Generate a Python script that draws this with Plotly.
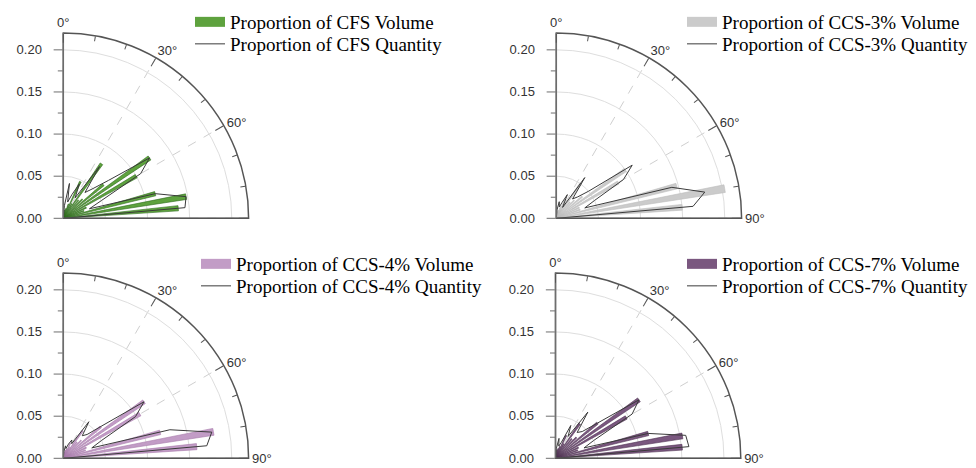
import plotly.graph_objects as go

# ---------------- data ----------------
angles = [5, 10, 15, 20, 25, 30, 35, 40, 45, 50, 55, 60, 65, 70, 75, 80, 85]

cfs_volume = [0.006, 0.010, 0.012, 0.018, 0.048, 0.020, 0.079, 0.028, 0.032, 0.062,
              0.125, 0.100, 0.030, 0.026, 0.113, 0.148, 0.137]
cfs_quantity = [0.015, 0.042, 0.020, 0.030, 0.045, 0.028, 0.075, 0.040, 0.050, 0.070,
                0.125, 0.106, 0.050, 0.033, 0.113, 0.148, 0.145]

ccs3_volume = [0.005, 0.008, 0.010, 0.015, 0.025, 0.020, 0.050, 0.025, 0.030, 0.040,
               0.100, 0.085, 0.030, 0.030, 0.148, 0.203, 0.150]
ccs3_quantity = [0.010, 0.020, 0.014, 0.020, 0.031, 0.015, 0.059, 0.030, 0.036, 0.050,
                 0.110, 0.092, 0.050, 0.036, 0.142, 0.179, 0.163]

ccs4_volume = [0.004, 0.008, 0.010, 0.012, 0.020, 0.015, 0.040, 0.025, 0.030, 0.058,
               0.117, 0.105, 0.030, 0.028, 0.119, 0.181, 0.159]
ccs4_quantity = [0.008, 0.015, 0.012, 0.018, 0.024, 0.020, 0.053, 0.035, 0.040, 0.060,
                 0.117, 0.099, 0.050, 0.036, 0.131, 0.179, 0.171]

ccs7_volume = [0.005, 0.010, 0.012, 0.015, 0.030, 0.020, 0.050, 0.030, 0.035, 0.065,
               0.121, 0.097, 0.030, 0.028, 0.114, 0.153, 0.151]
ccs7_quantity = [0.012, 0.024, 0.015, 0.020, 0.043, 0.030, 0.067, 0.040, 0.045, 0.065,
                 0.121, 0.105, 0.050, 0.036, 0.114, 0.157, 0.159]

names = ["CFS", "CCS-3%", "CCS-4%", "CCS-7%"]

radial_ticks = [0, 0.05, 0.10, 0.15, 0.20]
radial_ticktext = ["0.00", "0.05", "0.10", "0.15", "0.20"]
radial_minor = [0.025, 0.075, 0.125, 0.175]
angular_ticks = [0, 30, 60, 90]
angular_ticktext = ["0°", "30°", "60°", "90°"]
angular_minor = [10, 20, 40, 50, 70, 80]
r_max = 0.22

# ---------------- layout helpers ----------------
W, H = 976, 468
R_PX = 185.3
NB = "\u00a0"
panels = [
    dict(vol=cfs_volume, qty=cfs_quantity, fill="#5ea23e", edge="#2f6b1f",
         origin=(63.3, 218.3), leg=(190, 3, 25), show90=False),
    dict(vol=ccs3_volume, qty=ccs3_quantity, fill="#cbcbcb", edge="#bdbdbd",
         origin=(556.3, 218.3), leg=(682, 3, 25), show90=True),
    dict(vol=ccs4_volume, qty=ccs4_quantity, fill="#c29cc6", edge="#a77aab",
         origin=(63.3, 458.3), leg=(196, 245, 267), show90=True),
    dict(vol=ccs7_volume, qty=ccs7_quantity, fill="#7a577f", edge="#4f3353",
         origin=(555.5, 458.3), leg=(682, 245, 267), show90=True),
]

fig = go.Figure()
layout = dict(width=W, height=H, margin=dict(l=0, r=0, t=0, b=0),
              paper_bgcolor="white", plot_bgcolor="white", showlegend=True)

tickfont = dict(family="Liberation Sans, Arial, sans-serif", size=13, color="#333333")
legfont = dict(family="Liberation Serif, Times New Roman, serif", size=19, color="#000000")

for i, p in enumerate(panels):
    ox, oy = p["origin"]
    dom = dict(x=[ox / W, (ox + R_PX) / W], y=[(H - oy) / H, (H - oy + R_PX) / H])
    major = "polar" if i == 0 else f"polar{i + 1}"
    minor = f"polar{i + 5}"
    leg_v = "legend" if i == 0 else f"legend{2 * i + 1}"
    leg_q = f"legend{2 * i + 2}"
    name = names[i]

    # volume bars
    fig.add_trace(go.Barpolar(
        r=p["vol"], theta=angles, width=2.6, subplot=major,
        marker=dict(color=p["fill"], line=dict(color=p["edge"], width=0.6)),
        showlegend=False, hoverinfo="skip"))
    # legend entry for the volume
    fig.add_trace(go.Scatterpolar(
        r=[None], theta=[None], mode="lines", subplot=major, legend=leg_v,
        line=dict(color=p["fill"], width=10),
        name=f"Proportion of {name} Volume"))
    # quantity polygon
    fig.add_trace(go.Scatterpolar(
        r=[0] + p["qty"] + [0], theta=[0] + angles + [90], mode="lines",
        subplot=major, legend=leg_q,
        line=dict(color="#3a3a3a", width=1),
        name=f"Proportion of {name} Quantity", hoverinfo="skip"))
    # bottom edge of the sector
    fig.add_trace(go.Scatterpolar(
        r=[0, r_max], theta=[90, 90], mode="lines", subplot=major,
        line=dict(color="#6e6e6e", width=1.3), showlegend=False, hoverinfo="skip"))
    # minor-tick overlay
    fig.add_trace(go.Scatterpolar(
        r=[None], theta=[None], mode="lines", subplot=minor,
        showlegend=False, hoverinfo="skip"))

    att = list(angular_ticktext)
    if not p["show90"]:
        att[-1] = ""

    layout[major] = dict(
        domain=dom, sector=[0, 90], bgcolor="rgba(0,0,0,0)",
        radialaxis=dict(range=[0, r_max], angle=90, side="counterclockwise",
                        tickvals=radial_ticks,
                        ticktext=[t + NB + NB for t in radial_ticktext],
                        ticks="outside", ticklen=9, tickcolor="#6e6e6e", tickwidth=1,
                        tickfont=tickfont, tickangle=90,
                        showline=True, linecolor="#6e6e6e", linewidth=1.3,
                        showgrid=True, gridcolor="#dedede", gridwidth=1),
        angularaxis=dict(rotation=90, direction="clockwise",
                         tickvals=angular_ticks, ticktext=att,
                         ticks="inside", ticklen=9, tickcolor="#555555", tickwidth=1.2,
                         tickfont=tickfont,
                         showline=True, linecolor="#555555", linewidth=1.5,
                         showgrid=True, gridcolor="#cfcfcf", griddash="dash", gridwidth=1),
    )
    layout[minor] = dict(
        domain=dom, sector=[0, 90], bgcolor="rgba(0,0,0,0)",
        radialaxis=dict(range=[0, r_max], angle=90, side="counterclockwise",
                        tickvals=radial_minor, ticks="outside", ticklen=5,
                        tickcolor="#6e6e6e", showticklabels=False,
                        showline=False, showgrid=False),
        angularaxis=dict(rotation=90, direction="clockwise",
                         tickvals=angular_minor, ticks="inside", ticklen=5,
                         tickcolor="#555555", tickwidth=1.2, showticklabels=False,
                         showline=False, showgrid=False),
    )
    lx, ly1, ly2 = p["leg"]
    for lg, ly in ((leg_v, ly1), (leg_q, ly2)):
        layout[lg] = dict(x=lx / W, y=1 - ly / H, xanchor="left", yanchor="top",
                          font=legfont, bgcolor="rgba(0,0,0,0)", borderwidth=0,
                          itemwidth=30, tracegroupgap=0)

fig.update_layout(**layout)
fig.write_html("out.html")
